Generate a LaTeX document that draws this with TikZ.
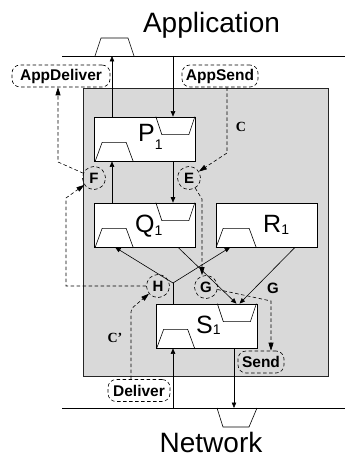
\documentclass[tikz,border=0pt]{standalone}
\usepackage{fontspec}
\setmainfont{Liberation Sans}
\newfontfamily\serifface{Liberation Serif}
\usetikzlibrary{arrows.meta,calc}
\newcommand{\trapUR}[1]{\draw[trap] ($(#1.north east)+(-40,0)$) -- ++(6,18) -- ++(27,0) -- ++(6,-18);}
\newcommand{\trapLL}[1]{\draw[trap] ($(#1.south west)+(1,0)$) -- ++(7,-19) -- ++(24,0) -- ++(7,19);}
\begin{document}
\begin{tikzpicture}[x=1pt,y=-1pt,
  box/.style={draw, fill=white, minimum width=101pt, minimum height=44pt, inner sep=0pt, line width=0.7pt},
  trap/.style={line width=0.6pt},
  boxtxt/.style={anchor=base west, inner sep=0pt, font=\fontsize{25}{25}\selectfont},
  lbl/.style={draw, dash pattern=on 3.5pt off 2.5pt, rounded corners=8pt, inner xsep=2pt, inner ysep=0pt,
              minimum height=22pt, font=\fontsize{15.5}{16}\selectfont\bfseries, line width=0.6pt},
  circ/.style={draw, dash pattern=on 3.5pt off 2.5pt, circle, minimum size=23pt, inner sep=0pt,
               font=\fontsize{15}{15}\selectfont\bfseries, line width=0.6pt},
  arr/.style={-{Triangle[length=5.5pt,width=4.5pt]}, line width=0.6pt},
  darr/.style={dash pattern=on 3.5pt off 2.5pt, -{Triangle[length=8pt,width=5pt]}, line width=0.6pt},
  big/.style={inner sep=0pt, anchor=base, font=\fontsize{28}{28}\selectfont},
  ser/.style={inner sep=0pt, font=\fontsize{14}{14}\selectfont\serifface\bfseries}
]
\useasboundingbox (0,0) rectangle (345,457);

% system area
\node[draw=black!85, fill=black!15, minimum width=245pt, minimum height=288pt, inner sep=0pt, line width=0.7pt] (sys) at (205.5,232) {};

% application / network lines
\node[big] (app) at (211.5,33) {Application};
\node[big] (net) at (211,452) {Network};
\coordinate (topL) at (62,56);
\coordinate (topR) at (345,56);
\coordinate (botL) at (62,408);
\coordinate (botR) at (345,408);
\draw[line width=0.8pt] (topL) -- (topR);
\draw[line width=0.8pt] (botL) -- (botR);
\draw[trap] (95,56) -- (101,38) -- (128,38) -- (134,56);
\draw[trap] (217,408) -- (223,427) -- (249,427) -- (257,408);

% boxes
\node[box] (P) at (145,139) {};
\node[box] (Q) at (145,225) {};
\node[box] (R) at (267,225) {};
\node[box] (S) at (206.5,326) {};
\trapUR{P}\trapLL{P}
\trapUR{Q}\trapLL{Q}
\draw[trap] ($(R.south west)+(0,0)$) -- ++(7,-19) -- ++(26,0) -- ++(7,19);
\trapUR{S}\trapLL{S}

\node[boxtxt] (Pt) at (138,142) {P\raisebox{-8pt}{\fontsize{14}{14}\selectfont 1}};
\node[boxtxt] (Qt) at (135,232) {Q\raisebox{-3pt}{\fontsize{14}{14}\selectfont 1}};
\node[boxtxt] (Rt) at (263,232) {R\raisebox{-2pt}{\fontsize{14}{14}\selectfont 1}};
\node[boxtxt] (St) at (196,333) {S\raisebox{-1pt}{\fontsize{14}{14}\selectfont 1}};

% solid connectors
\coordinate (appL) at (112,56);
\coordinate (appR) at (173,56);
\coordinate (netL) at (173,408);
\coordinate (netR) at (234,408);
\coordinate (J) at (173,283);
\draw[arr] (P.north -| appL) -- (appL);
\draw[arr] (appR) -- (P.north -| appR);
\draw[arr] (Q.north -| appL) -- (P.south -| appL);
\draw[arr] (P.south -| appR) -- (Q.north -| appR);
\draw[line width=0.6pt] (S.north -| J) -- (J);
\draw[arr] (J) -- ($(Q.south west)+(21,0)$);
\draw[arr] (J) -- ($(R.south west)+(14,0)$);
\draw[arr] ($(Q.south)+(33,0)$) -- ($(S.north)+(30,0)$);
\draw[arr] ($(R.south)+(28,0)$) -- ($(S.north)+(33,0)$);
\draw[arr] (netL) -- (S.south -| netL);
\draw[arr] (S.south -| netR) -- (netR);

% dashed labels
\node[lbl, minimum width=98pt] (AppDeliver) at (61,76) {AppDeliver};
\node[lbl, minimum width=76pt] (AppSend) at (220,76) {AppSend};
\node[lbl, minimum width=62pt] (Deliver) at (139,390.5) {Deliver};
\node[lbl, minimum width=46pt] (Send) at (261,362) {Send};
\node[circ] (F) at (94,178) {F};
\node[circ] (E) at (189,178) {E};
\node[circ] (H) at (158,286) {H};
\node[circ] (G) at (206,287) {G};
\node[inner sep=0pt, font=\fontsize{15}{15}\selectfont\bfseries] (G2) at (273,288) {G};
\node[ser] (C) at (241,127) {C};
\node[ser] (C2) at (115,338) {C’};

% dashed connectors
\coordinate (c1) at (227,153);
\coordinate (c2) at (202,199);
\coordinate (c3) at (271,301);
\coordinate (c4) at (58,162);
\coordinate (c5) at (66,286);
\coordinate (c6) at (66,198);
\coordinate (c7) at (131,309);
\draw[darr] (AppSend.south -| c1) -- (c1) -- (E);
\draw[darr] (E) -- (c2) -- (c2 |- G.north);
\draw[darr] (G) -- (c3) -- (c3 |- Send.north);
\draw[darr] (F) -- (c4) -- (c4 |- AppDeliver.south);
\draw[darr] (H) -- (c5) -- (c6) -- (F);
\draw[darr, rounded corners=3pt] (Deliver.north -| c7) -- (c7) -- (H);
\end{tikzpicture}
\end{document}
